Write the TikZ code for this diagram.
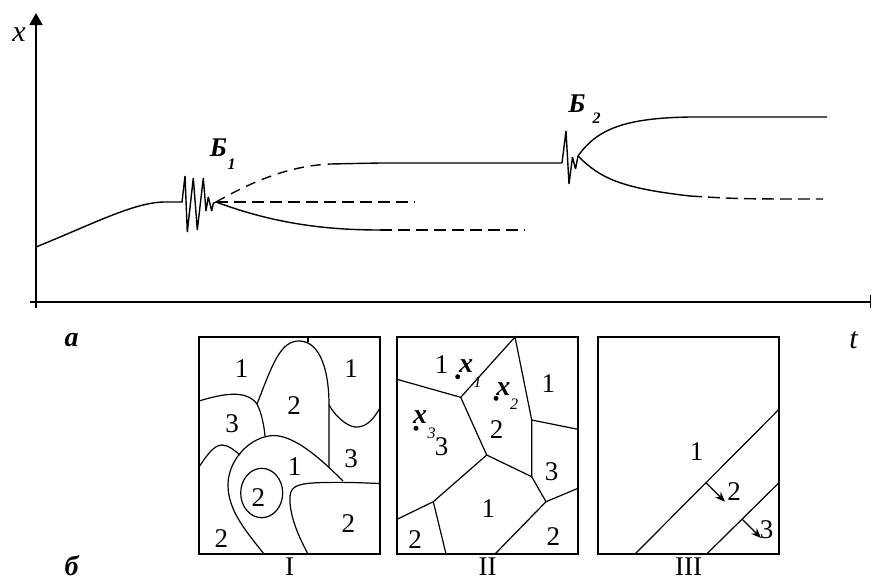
\documentclass[tikz,border=0pt]{standalone}
\definecolor{ink}{HTML}{000000}
\usepackage{fontspec}
\setmainfont{Liberation Serif}
\usepackage{tikz}
\usetikzlibrary{arrows.meta}
\tikzset{
  axis/.style={draw=ink,line width=2pt},
  trend/.style={draw=ink,line width=1.4pt,miter limit=4},
  branch/.style={trend,dash pattern=on 12pt off 6pt},
  panel/.style={draw=ink,line width=1.4pt},
  border/.style={draw=ink,line width=1.2pt},
  push/.style={border,-{Stealth[length=10pt,width=8pt]}},
  num/.style={font=\fontsize{27}{30}\selectfont,text=ink,inner sep=0pt},
  var/.style={font=\fontsize{30}{32}\selectfont\itshape,text=ink,inner sep=0pt},
  tag/.style={font=\fontsize{28}{30}\selectfont\bfseries\itshape,text=ink,inner sep=0pt},
  bif/.style={font=\fontsize{27}{29}\selectfont\bfseries\itshape,text=ink,inner sep=0pt},
  sub/.style={font=\fontsize{16}{18}\selectfont\bfseries\itshape,text=ink,inner sep=0pt},
  spot/.style={circle,fill=ink,inner sep=0pt,minimum size=5pt}
}

\begin{document}
\begin{tikzpicture}[x=1pt,y=-1pt]
  \useasboundingbox (0,0) rectangle (872,582);

  % axes
  \coordinate (orig) at (36,302);
  \coordinate (xtop) at (36,13);
  \coordinate (tend) at (870.5,302);
  \draw[axis,line width=1.8pt,-{Triangle[length=12pt,width=13pt]}] (36,308) -- (xtop);
  \draw[axis,line width=2.6pt] (30,302) -- (tend);
  \draw[axis,line width=1.5pt] (870.5,295) -- (870.5,308);
  \node[var] (xlab) at (19,34.7) {x};
  \node[var] (tlab) at (853.5,340.5) {t};
  \node[tag] (alab) at (71.5,340.5) {а};
  \node[tag] (blab) at (71.5,566) {б};

  % first bifurcation
  \coordinate (b1) at (216,202);
  \draw[trend] (36,247) .. controls (95,223) and (135,202) .. (165,202) -- (182,202)
    -- (185,176) -- (187.3,232) -- (193.3,178) -- (197.3,230) -- (203.3,178)
    -- (206,211) -- (208.3,196.7) -- (211.7,211) -- (213.3,203.3) -- (b1);
  \draw[branch,dash pattern=on 10pt off 7pt] (b1) .. controls (255,180) and (290,166) .. (330,164);
  \draw[trend] (330,164) .. controls (355,163) .. (380,163) -- (562,163);
  \draw[branch] (b1) -- (415,202);
  \draw[trend] (b1) .. controls (270,222) and (320,230) .. (380,230);
  \draw[branch] (380,230) -- (525,230);
  \node[bif] (b1name) at (218.5,148) {Б};
  \node[sub] (b1sub) at (231.5,164) {1};

  % second bifurcation
  \coordinate (b2) at (578,156);
  \draw[trend] (562,163) -- (566,131) -- (569,184) -- (572.5,157) -- (575.5,169) -- (b2);
  \draw[trend] (b2) .. controls (597,129) and (625,118) .. (690,117) -- (827,117);
  \draw[trend] (b2) .. controls (600,178) and (620,188) .. (690,196);
  \draw[branch] (690,196) .. controls (740,199) .. (823,199);
  \node[bif] (b2name) at (577,103.3) {Б};
  \node[sub] (b2sub) at (596.5,118.5) {2};

  % panel I
  \draw[panel] (199,337) rectangle (380,554);
  \draw[border] (308,337) -- (308,342);
  \draw[border] (257,404) .. controls (272,366) and (280,340) .. (300,341)
    .. controls (320,342) and (329,370) .. (329,405) -- (329,467);
  \draw[border] (329,405) .. controls (338,420) and (350,428) .. (358,427)
    .. controls (368,426) and (374,418) .. (380,408);
  \draw[border] (199,401) .. controls (222,394) and (246,389) .. (257,404)
    .. controls (262,414) and (264,426) .. (265,436);
  \draw[border] (199,467) .. controls (207,455) and (214,445) .. (222,445)
    .. controls (229,445) and (235,451) .. (240,455);
  \draw[border] (264,554) .. controls (245,530) and (228,510) .. (228,485)
    .. controls (228,460) and (250,436) .. (274,435.5)
    .. controls (295,436) and (320,458) .. (343,481);
  \draw[border] (308,554) .. controls (296,532) and (289,512) .. (290,496)
    .. controls (291,485) and (300,483) .. (325,482.5)
    .. controls (350,482) and (365,483) .. (380,483.5);
  \draw[border] (261.7,493) ellipse [x radius=21pt,y radius=24.7pt];
  \node[num] (ia) at (241.7,368.3) {1};
  \node[num] (ib) at (351,368.3) {1};
  \node[num] (ic) at (294,405.5) {2};
  \node[num] (id) at (232,423.7) {3};
  \node[num] (ie) at (294.5,466.7) {1};
  \node[num] (if) at (351.2,458.2) {3};
  \node[num] (ig) at (258.3,498) {2};
  \node[num] (ih) at (348.3,523.3) {2};
  \node[num] (ii) at (221.3,538.2) {2};
  \node[num] (icap) at (289.6,567) {I};

  % panel II
  \draw[panel] (397,337) rectangle (578,554);
  \coordinate (va) at (515,337);
  \coordinate (vb) at (460.7,397.3);
  \coordinate (vc) at (486.7,455);
  \coordinate (vd) at (531.7,476.7);
  \coordinate (ve) at (531.7,420);
  \coordinate (vf) at (546,501.7);
  \coordinate (vg) at (433.3,501.7);
  \draw[border] (397,379.3) -- (vb) -- (va) -- (ve) -- (vd) -- (vc) -- (vb);
  \draw[border] (ve) -- (578,429.3);
  \draw[border] (vd) -- (vf) -- (578,488.3);
  \draw[border] (vf) -- (495,554);
  \draw[border] (vc) -- (vg) -- (397,519.3);
  \draw[border] (vg) -- (446,554);
  \node[num] (iia) at (441.7,365) {1};
  \node[num] (iib) at (441.7,446.7) {3};
  \node[num] (iic) at (496.7,430) {2};
  \node[num] (iid) at (548.3,383.3) {1};
  \node[num] (iie) at (551.7,471.7) {3};
  \node[num] (iif) at (488.3,508.3) {1};
  \node[num] (iig) at (415,540) {2};
  \node[num] (iih) at (553.3,536.7) {2};
  \node[spot] (s1) at (457.7,376.7) {};
  \node[tag] (s1x) at (466,366) {x};
  \node[sub,font=\fontsize{16}{18}\selectfont\itshape] (s1i) at (477.5,382) {1};
  \node[spot] (s2) at (496,398.3) {};
  \node[tag] (s2x) at (503.3,389.3) {x};
  \node[sub,font=\fontsize{16}{18}\selectfont\itshape] (s2i) at (514,404.5) {2};
  \node[spot] (s3) at (416,428.3) {};
  \node[tag] (s3x) at (420,417.3) {x};
  \node[sub,font=\fontsize{16}{18}\selectfont\itshape] (s3i) at (431.5,433.5) {3};
  \node[num] (iicap) at (487.7,567) {II};

  % panel III
  \draw[panel] (598,337) rectangle (779,554);
  \coordinate (fa) at (635,554);
  \coordinate (fb) at (779,409.3);
  \coordinate (ga) at (706.7,554);
  \coordinate (gb) at (779,482.7);
  \draw[border] (fa) -- (fb);
  \draw[border] (ga) -- (gb);
  \coordinate (pa) at (706,482.7);
  \coordinate (pb) at (725,501.7);
  \coordinate (qa) at (742.3,519.3);
  \coordinate (qb) at (761,538);
  \draw[push] (pa) -- (pb);
  \draw[push] (qa) -- (qb);
  \node[num] (iiia) at (696.7,451.7) {1};
  \node[num] (iiib) at (734,491.7) {2};
  \node[num] (iiic) at (766.7,529.3) {3};
  \node[num] (iiicap) at (688.5,567) {III};
\end{tikzpicture}
\end{document}
